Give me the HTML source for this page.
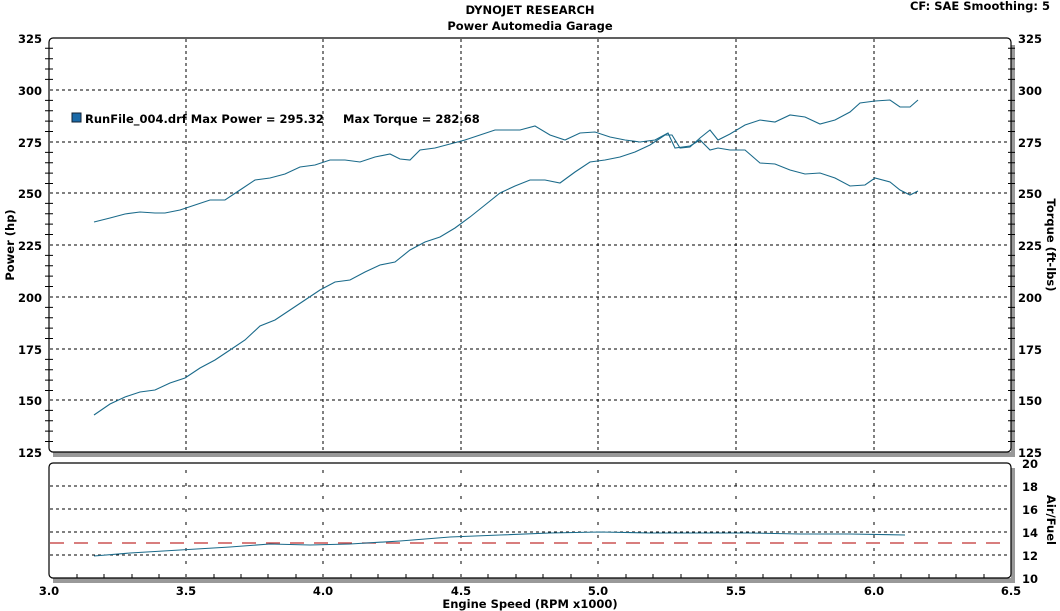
<!DOCTYPE html>
<html><head><style>
body{margin:0;background:#fff;}
svg{display:block;font-family:Verdana,"DejaVu Sans",sans-serif;font-weight:bold;}
</style></head><body>
<svg width="1060" height="611" viewBox="0 0 1060 611" xmlns="http://www.w3.org/2000/svg">
<text x="530" y="14" font-size="11.5" text-anchor="middle">DYNOJET RESEARCH</text>
<text x="530" y="30" font-size="11.5" text-anchor="middle">Power Automedia Garage</text>
<text x="1050" y="10" font-size="11.5" text-anchor="end">CF: SAE  Smoothing: 5</text>
<!-- shadows -->
<rect x="53" y="452" width="961" height="5" fill="#999"/>
<rect x="1011" y="45" width="4" height="412" fill="#999"/>
<rect x="53" y="578" width="961" height="5" fill="#999"/>
<rect x="1011" y="468" width="4" height="115" fill="#999"/>
<rect x="49" y="38" width="962" height="414" rx="4" fill="#fff" stroke="#000" stroke-width="1.2"/>
<rect x="49" y="463" width="962" height="115" rx="4" fill="#fff" stroke="#000" stroke-width="1.2"/>
<g stroke="#000" stroke-width="1" stroke-dasharray="3,3">
<line x1="50" x2="1010" y1="90" y2="90"/><line x1="50" x2="1010" y1="142" y2="142"/>
<line x1="50" x2="1010" y1="193" y2="193"/><line x1="50" x2="1010" y1="245" y2="245"/>
<line x1="50" x2="1010" y1="297" y2="297"/><line x1="50" x2="1010" y1="349" y2="349"/>
<line x1="50" x2="1010" y1="400" y2="400"/>
<line y1="39" y2="451" x1="186" x2="186"/><line y1="39" y2="451" x1="323" x2="323"/>
<line y1="39" y2="451" x1="461" x2="461"/><line y1="39" y2="451" x1="598" x2="598"/>
<line y1="39" y2="451" x1="736" x2="736"/><line y1="39" y2="451" x1="874" x2="874"/>
<line x1="50" x2="1010" y1="486" y2="486"/><line x1="50" x2="1010" y1="509" y2="509"/>
<line x1="50" x2="1010" y1="532" y2="532"/><line x1="50" x2="1010" y1="555" y2="555"/>
</g>
<g stroke="#000" stroke-width="1" stroke-dasharray="3,10">
<line y1="470" y2="577" x1="186" x2="186"/><line y1="470" y2="577" x1="323" x2="323"/>
<line y1="470" y2="577" x1="461" x2="461"/><line y1="470" y2="577" x1="598" x2="598"/>
<line y1="470" y2="577" x1="736" x2="736"/><line y1="470" y2="577" x1="874" x2="874"/>
</g>
<!-- left ticks -->
<g stroke="#000" stroke-width="1" id="lt">
<path d="M45 48.3h8M45 58.7h8M45 69h8M45 79.4h8M45 100.4h8M45 110.8h8M45 121.1h8M45 131.5h8M45 152.4h8M45 162.8h8M45 173.1h8M45 183.5h8M45 203.4h8M45 213.8h8M45 224.1h8M45 234.5h8M45 255.4h8M45 265.8h8M45 276.1h8M45 286.5h8M45 307.4h8M45 317.8h8M45 328.1h8M45 338.5h8M45 359.4h8M45 369.8h8M45 380.1h8M45 390.5h8M45 410.4h8M45 420.8h8M45 431.1h8M45 441.5h8"/>
<path d="M1008 48.3h7M1008 58.7h7M1008 69h7M1008 79.4h7M1008 100.4h7M1008 110.8h7M1008 121.1h7M1008 131.5h7M1008 152.4h7M1008 162.8h7M1008 173.1h7M1008 183.5h7M1008 203.4h7M1008 213.8h7M1008 224.1h7M1008 234.5h7M1008 255.4h7M1008 265.8h7M1008 276.1h7M1008 286.5h7M1008 307.4h7M1008 317.8h7M1008 328.1h7M1008 338.5h7M1008 359.4h7M1008 369.8h7M1008 380.1h7M1008 390.5h7M1008 410.4h7M1008 420.8h7M1008 431.1h7M1008 441.5h7"/>
<path d="M77 574v4M104 574v4M132 574v4M159 574v4M214 574v4M241 574v4M268 574v4M296 574v4M351 574v4M378 574v4M406 574v4M433 574v4M488 574v4M516 574v4M543 574v4M571 574v4M626 574v4M653 574v4M681 574v4M708 574v4M763 574v4M791 574v4M818 574v4M846 574v4M901 574v4M929 574v4M956 574v4M984 574v4"/>
</g>
<g font-size="11.5" text-anchor="end">
<text x="42" y="43">325</text><text x="42" y="95">300</text><text x="42" y="147">275</text>
<text x="42" y="198">250</text><text x="42" y="250">225</text><text x="42" y="302">200</text>
<text x="42" y="354">175</text><text x="42" y="405">150</text><text x="42" y="457">125</text>
</g>
<g font-size="11.5">
<text x="1018" y="43">325</text><text x="1018" y="95">300</text><text x="1018" y="147">275</text>
<text x="1018" y="198">250</text><text x="1018" y="250">225</text><text x="1018" y="302">200</text>
<text x="1018" y="354">175</text><text x="1018" y="405">150</text><text x="1018" y="457">125</text>
<text x="1022" y="468">20</text><text x="1022" y="491">18</text><text x="1022" y="514">16</text>
<text x="1022" y="537">14</text><text x="1022" y="560">12</text><text x="1022" y="583">10</text>
</g>
<g font-size="11.5" text-anchor="middle">
<text x="49" y="595">3.0</text><text x="186" y="595">3.5</text><text x="323" y="595">4.0</text>
<text x="461" y="595">4.5</text><text x="598" y="595">5.0</text><text x="736" y="595">5.5</text>
<text x="874" y="595">6.0</text><text x="1011" y="595">6.5</text>
<text x="530" y="608">Engine Speed (RPM x1000)</text>
</g>
<text font-size="11.5" transform="translate(14,245) rotate(-90)" text-anchor="middle">Power (hp)</text>
<text font-size="11.5" transform="translate(1047,245) rotate(90)" text-anchor="middle">Torque (ft-lbs)</text>
<text font-size="11.5" transform="translate(1047,520) rotate(90)" text-anchor="middle">Air/Fuel</text>
<rect x="72" y="113" width="9" height="9" fill="#1a6aa8" stroke="#123" stroke-width="1"/>
<text x="85" y="123" font-size="11.5">RunFile_004.drf Max Power = 295.32</text>
<text x="343" y="123" font-size="11.5">Max Torque = 282.68</text>
<line x1="50" x2="1010" y1="543" y2="543" stroke="#c03030" stroke-width="1.3" stroke-dasharray="14,10"/>
<g fill="none" stroke="#1a6a8a" stroke-width="1.1">
<polyline points="94,415 110,404 125,397 140,392 155,390 170,383 185,378 200,368 215,360 230,350 245,340 260,326 275,320 290,310 305,300 320,290 335,282 350,280 365,272 380,265 395,262 410,250 425,242 440,237 455,228 470,217 485,205 500,193 515,186 530,180 545,180 560,183 575,172 590,162 605,160 620,157 635,152 650,145 665,135 672,135 680,148 690,147 700,138 710,130 718,140 730,134 745,125 760,120 775,122 790,115 805,117 820,124 835,120 850,112 860,103 875,101 890,100 900,107 910,107 918,100"/>
<polyline points="94,222 110,218 125,214 140,212 155,213 165,213 180,210 195,205 210,200 225,200 240,190 255,180 270,178 285,174 300,167 315,165 330,160 345,160 360,162 375,157 390,154 400,159 410,160 420,150 435,148 450,144 465,140 480,135 495,130 510,130 520,130 535,126 550,135 565,140 580,133 595,132 610,137 625,140 640,142 655,140 668,133 675,148 690,146 700,140 710,150 718,148 730,150 745,150 760,163 775,164 790,170 805,174 820,173 835,178 850,186 865,185 875,178 890,182 900,190 910,195 918,191"/>
<polyline points="94,556 130,553 180,550 230,547 270,544 310,545 350,544 400,541 450,537 500,535 550,533 600,532 650,533 700,533 750,533 800,534 850,534 905,535"/>
</g>
</svg>
</body></html>
